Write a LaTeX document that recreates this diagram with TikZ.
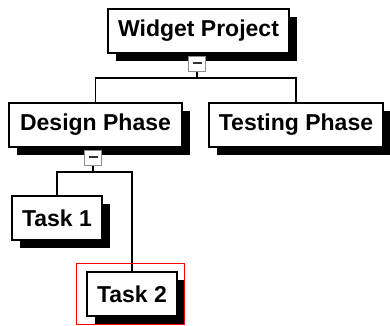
\documentclass[tikz,border=0pt]{standalone}
\usepackage{fontspec}
\setmainfont{Liberation Sans}
\usetikzlibrary{shadows}
\definecolor{selred}{HTML}{FF0000}
\definecolor{btngray}{HTML}{8C8C8C}
\tikzset{
  card/.style={draw=black, fill=white, line width=1.2pt, minimum height=44pt, inner sep=0pt,
    font=\bfseries\fontsize{23}{25}\selectfont,
    drop shadow={shadow xshift=8pt, shadow yshift=-8pt, fill=black, opacity=1}},
  toggle/.style={draw=btngray, fill=white, line width=1pt, minimum width=17pt, minimum height=15pt, inner sep=0pt},
  wire/.style={black, line width=1.1pt},
  selbox/.style={draw=selred, line width=1pt},
}
\newcommand{\minus}{\textcolor{black!80}{\rule[2.5pt]{9pt}{1.8pt}}}

\begin{document}
\begin{tikzpicture}[x=1pt, y=-1pt]
    \useasboundingbox (0,0) rectangle (390,325);

    \node[card, minimum width=181pt] (widget) at (198.5,31) {Widget Project};
    \node[card, minimum width=173pt] (design) at (95.5,125) {Design Phase};
    \node[card, minimum width=174pt] (testing) at (296,125) {Testing Phase};
    \node[card, minimum width=90pt] (task1) at (57,218) {Task 1};
    \node[card, minimum width=90pt] (task2) at (132,294) {Task 2};

    \node[toggle] (btnw) at (197,64) {\minus};
    \node[toggle] (btnd) at (93,158) {\minus};
    \coordinate (busw) at (197,78);
    \coordinate (busd) at (93,172);

    \draw[wire] (btnw) -- (busw);
    \draw[wire] (design.north) |- (busw) -| (testing.north);
    \draw[wire] (btnd) -- (busd);
    \draw[wire] (task1.north) |- (busd) -| (task2.north);

    % selection frame
    \draw[selbox] ([shift={(-10,-8)}]task2.north west) rectangle ([shift={(7,8)}]task2.south east);
\end{tikzpicture}
\end{document}
